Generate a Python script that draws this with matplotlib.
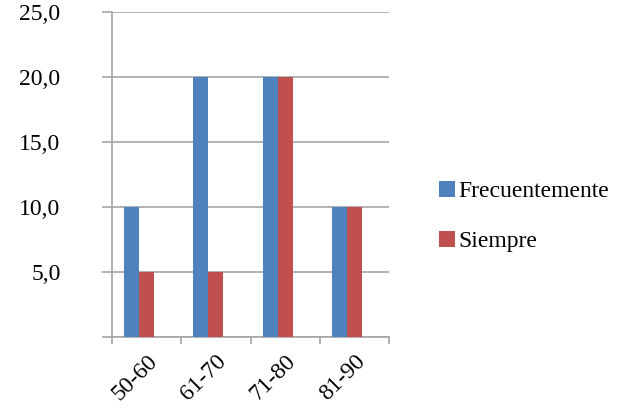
import matplotlib
matplotlib.use("Agg")
import matplotlib.pyplot as plt
import numpy as np

categories = ["50-60", "61-70", "71-80", "81-90"]
frecuentemente = [10, 20, 20, 10]
siempre = [5, 5, 20, 10]
series_names = ["Frecuentemente", "Siempre"]
yticks = [0, 5, 10, 15, 20, 25]
ytick_labels = ["", "5,0", "10,0", "15,0", "20,0", "25,0"]

plt.rcParams['font.family'] = ['Liberation Serif', 'DejaVu Serif']
FS = 17

fig = plt.figure(figsize=(6.26, 4.11), dpi=100)
ax = fig.add_axes([112/626, 1-337/411, (389-112)/626, (337-12)/411])

x = np.arange(len(categories))
w = 15/69
blue = "#4F81BD"
red = "#C0504D"
ax.bar(x - w, frecuentemente, width=w, color=blue, label=series_names[0], zorder=3)
ax.bar(x, siempre, width=w, color=red, label=series_names[1], zorder=3)

ax.set_xlim(-0.5, len(categories) - 0.5)
ax.set_ylim(0, 25)
ax.set_yticks(yticks)
ax.set_yticklabels(ytick_labels, fontsize=FS)
ax.yaxis.grid(True, color="#a6a6a6", linewidth=1.2, zorder=0)
ax.set_axisbelow(True)

ax.set_xticks(np.arange(len(categories) + 1) - 0.5)
ax.set_xticklabels([])
ax.set_xticks(x, minor=True)
ax.set_xticklabels(categories, minor=True, rotation=45, ha="right", va="top",
                   rotation_mode="anchor", fontsize=FS)
ax.tick_params(axis="x", which="minor", length=0, pad=10)
ax.tick_params(axis="x", which="major", length=5, width=1.2, color="#a6a6a6")
ax.tick_params(axis="y", length=7, width=1.2, color="#a6a6a6", pad=30)

for s in ["top", "right"]:
    ax.spines[s].set_visible(False)
for s in ["left", "bottom"]:
    ax.spines[s].set_color("#a6a6a6")
    ax.spines[s].set_linewidth(1.2)

fig.legend(loc="upper left", bbox_to_anchor=(418/626, 1-160/411), frameon=False,
           fontsize=FS, handlelength=0.65, handleheight=0.65, handletextpad=0.15,
           labelspacing=1.2)

fig.savefig("out.png", dpi=100)
